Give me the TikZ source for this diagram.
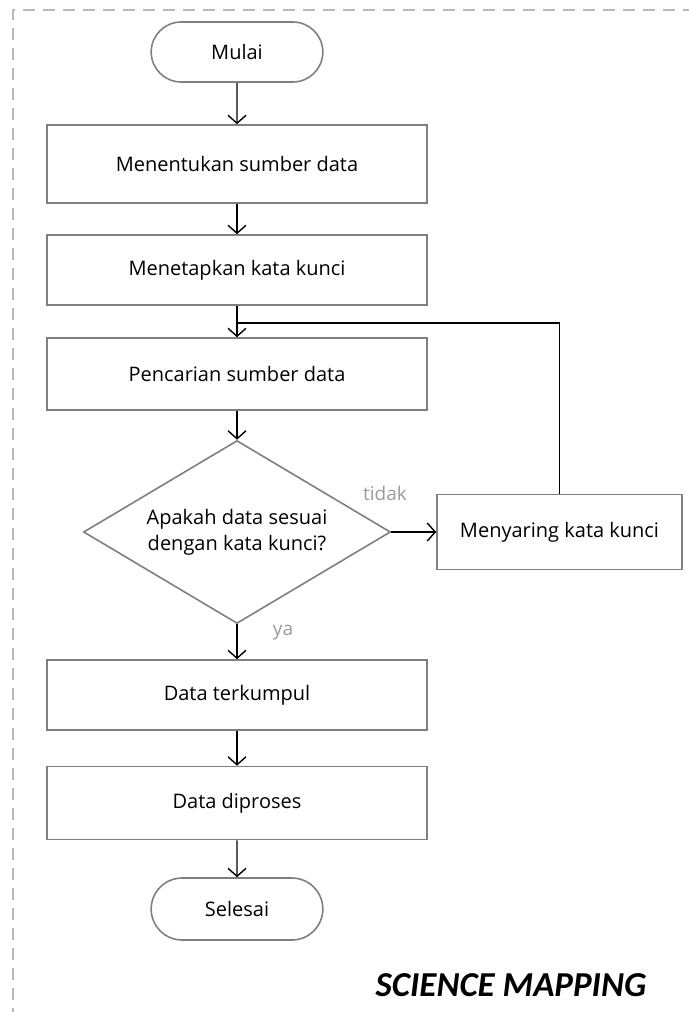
\documentclass[tikz,border=0pt]{standalone}
\usepackage{fontspec}
\setmainfont{Open Sans}
\newfontfamily\titlefont{Carlito}
\usetikzlibrary{arrows.meta,shapes.geometric,shapes.misc}
\definecolor{boxgray}{HTML}{7F7F7F}
\definecolor{labelgray}{HTML}{9A9A9A}
\tikzset{
  flowbox/.style={draw=boxgray,line width=0.8pt,rectangle,minimum width=190pt,minimum height=36pt,align=center},
  terminal/.style={draw=boxgray,line width=0.8pt,rounded rectangle,minimum width=92.5pt,minimum height=30pt},
  decision/.style={draw=boxgray,line width=0.8pt,diamond,aspect=1.68,inner sep=0pt,minimum width=153.5pt,minimum height=91.5pt,align=center},
  flowline/.style={line width=0.7pt,black},
  branchlabel/.style={text=labelgray,font=\fontsize{9.5}{11}\selectfont}
}
\begin{document}
\begin{tikzpicture}[x=0.5pt,y=-0.5pt,>={Straight Barb[length=4pt,width=9pt]},font=\fontsize{10}{13}\selectfont]
  \useasboundingbox (0,0) rectangle (689,1012);
  %frame
  \draw [gray!55,line width=0.8pt,dash pattern=on 6pt off 4pt] (13,1020)--(13,10)--(700,10);
  %steps
  \node [terminal] (start) at (237,52) {Mulai};
  \node [flowbox,minimum height=39pt] (source) at (237,164) {Menentukan sumber data};
  \node [flowbox,minimum height=35pt] (keyword) at (237,270) {Menetapkan kata kunci};
  \node [flowbox] (search) at (237,374) {Pencarian sumber data};
  \node [decision] (check) at (237,532) {Apakah data sesuai\\dengan kata kunci?};
  \node [flowbox,minimum width=122.5pt,minimum height=37.5pt] (filter) at (559.5,532) {Menyaring kata kunci};
  \node [flowbox,minimum height=35pt] (collect) at (237,695) {Data terkumpul};
  \node [flowbox,minimum height=36.5pt] (process) at (237,803) {Data diproses};
  \node [terminal,minimum height=31pt] (finish) at (237,909) {Selesai};
  \coordinate (loop) at (237,323);
  %arrows
  \draw [flowline,->] (start)--(source);
  \draw [flowline,->] (source)--(keyword);
  \draw [flowline,->] (keyword)--(search);
  \draw [flowline,->] (search)--(check);
  \draw [flowline,->] (check.east)--(filter.west);
  \draw [flowline] (filter.north)|-(loop);
  \draw [flowline,->] (check.south)--(collect);
  \draw [flowline,->] (collect)--(process);
  \draw [flowline,->] (process)--(finish);
  %labels
  \node [branchlabel] (no) at (385,493) {tidak};
  \node [branchlabel] (yes) at (283,633) {ya};
  \node [font=\titlefont\bfseries\itshape\fontsize{17.5}{20}\selectfont] (title) at (511,985) {SCIENCE MAPPING};
\end{tikzpicture}
\end{document}
